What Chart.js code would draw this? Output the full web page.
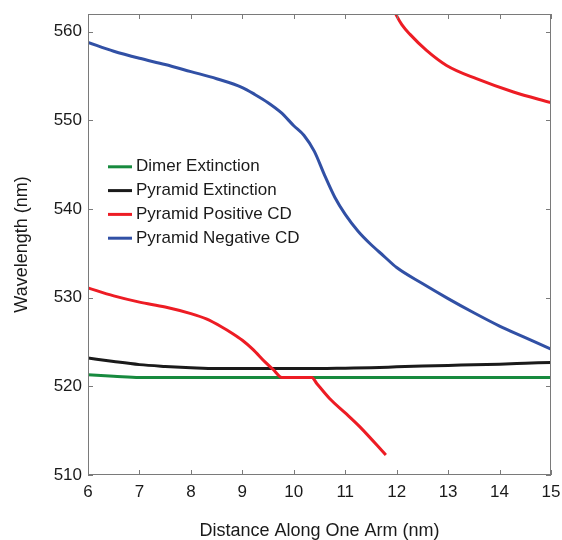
<!DOCTYPE html>
<html>
<head>
<meta charset="utf-8">
<script src="https://cdn.jsdelivr.net/npm/chart.js@4/dist/chart.umd.min.js"></script>
<style>
  html, body { margin: 0; padding: 0; background: #fff; }
  #wrap { width: 562px; height: 540px; }
</style>
</head>
<body>
<div id="wrap"><canvas id="chart" width="562" height="540"></canvas></div>
<script>
// Series data
const dimerX = [6.0, 6.5, 7.0, 7.5, 8.0, 9.0, 10.0, 11.0, 12.0, 13.0, 14.0, 15.0];
const dimerY = [521.3, 521.15, 521.0, 521.0, 521.0, 521.0, 521.0, 521.0, 521.0, 521.0, 521.0, 521.0];

const pyrExtX = [6.0, 6.5, 7.0, 7.5, 8.0, 8.5, 9.0, 9.5, 10.0, 10.5, 11.0, 11.5, 12.0, 12.5, 13.0, 13.5, 14.0, 14.5, 15.0];
const pyrExtY = [523.2, 522.8, 522.45, 522.25, 522.1, 522.0, 522.0, 522.0, 522.0, 522.0, 522.05, 522.1, 522.2, 522.3, 522.35, 522.45, 522.5, 522.6, 522.7];

const posLowX = [6.0, 6.5, 7.0, 7.5, 8.0, 8.3, 8.6, 8.8, 9.0, 9.2, 9.45, 9.6, 9.77, 10.35, 10.45, 10.7, 11.0, 11.29, 11.79];
const posLowY = [531.1, 530.2, 529.5, 528.95, 528.2, 527.6, 526.7, 526.0, 525.2, 524.2, 522.7, 521.9, 521.0, 521.0, 520.3, 518.6, 517.0, 515.4, 512.25];
const posHighX = [11.85, 11.99, 12.1, 12.26, 12.58, 12.97, 13.55, 14.27, 15.0];
const posHighY = [563.6, 561.9, 560.8, 559.7, 557.9, 556.2, 554.7, 553.2, 552.0];

const negX = [6.0, 6.5, 7.0, 7.5, 8.0, 8.5, 9.0, 9.25, 9.5, 9.75, 10.0, 10.2, 10.4, 10.6, 10.8, 11.0, 11.25, 11.5, 11.75, 12.0, 12.5, 13.0, 13.5, 14.0, 14.5, 15.0];
const negY = [558.8, 557.8, 557.0, 556.3, 555.5, 554.7, 553.7, 552.9, 552.0, 550.9, 549.4, 548.3, 546.5, 543.8, 541.3, 539.4, 537.5, 536.0, 534.7, 533.4, 531.6, 529.9, 528.3, 526.8, 525.5, 524.2];

const xTicks = [6, 7, 8, 9, 10, 11, 12, 13, 14, 15];
const yTicks = [510, 520, 530, 540, 550, 560];

const seriesLabels = ['Dimer Extinction', 'Pyramid Extinction', 'Pyramid Positive CD', 'Pyramid Negative CD'];
const seriesColors = ['#178a3e', '#1a1a1a', '#ed1c24', '#3150a5'];

function toPoints(xs, ys) {
  return xs.map((x, i) => ({ x: x, y: ys[i] }));
}

const FONT = '"Liberation Sans", Arial, Helvetica, sans-serif';

// frame, inward ticks on all four sides, and the legend inside the plot
const framePlugin = {
  id: 'frame',
  afterDatasetsDraw(chart) {
    const ctx = chart.ctx;
    const a = chart.chartArea;
    const xs = chart.scales.x, ys = chart.scales.y;
    ctx.save();
    ctx.strokeStyle = '#7a7a7a';
    ctx.lineWidth = 1;
    ctx.strokeRect(a.left + 0.5, a.top + 0.5, a.right - a.left - 1, a.bottom - a.top - 1);
    const len = 5;
    ctx.beginPath();
    xTicks.forEach(v => {
      const px = Math.round(xs.getPixelForValue(v)) + 0.5;
      ctx.moveTo(px, a.bottom); ctx.lineTo(px, a.bottom - len);
      ctx.moveTo(px, a.top); ctx.lineTo(px, a.top + len);
    });
    yTicks.forEach(v => {
      const py = Math.round(ys.getPixelForValue(v)) + 0.5;
      ctx.moveTo(a.left, py); ctx.lineTo(a.left + len, py);
      ctx.moveTo(a.right, py); ctx.lineTo(a.right - len, py);
    });
    ctx.stroke();

    // legend
    ctx.font = '17px ' + FONT;
    ctx.textBaseline = 'middle';
    ctx.textAlign = 'left';
    seriesLabels.forEach((lab, i) => {
      const y = 166.8 + i * 23.8;
      ctx.strokeStyle = seriesColors[i];
      ctx.lineWidth = 3;
      ctx.beginPath();
      ctx.moveTo(108, y); ctx.lineTo(132, y);
      ctx.stroke();
      ctx.fillStyle = '#1a1a1a';
      ctx.fillText(lab, 136, y);
    });
    ctx.restore();
  }
};

const ctx = document.getElementById('chart').getContext('2d');
const chart = new Chart(ctx, {
  type: 'line',
  data: {
    datasets: [
      {
        label: seriesLabels[0],
        data: toPoints(dimerX, dimerY),
        borderColor: seriesColors[0],
        order: 4
      },
      {
        label: seriesLabels[1],
        data: toPoints(pyrExtX, pyrExtY),
        borderColor: seriesColors[1],
        order: 3
      },
      {
        label: seriesLabels[2],
        data: toPoints(posLowX, posLowY).concat([{ x: 11.82, y: null }], toPoints(posHighX, posHighY)),
        borderColor: seriesColors[2],
        order: 2
      },
      {
        label: seriesLabels[3],
        data: toPoints(negX, negY),
        borderColor: seriesColors[3],
        order: 1
      }
    ]
  },
  options: {
    responsive: false,
    animation: false,
    spanGaps: false,
    layout: { padding: { left: 0, top: 14, right: 11, bottom: 0 } },
    elements: {
      line: { borderWidth: 3, cubicInterpolationMode: 'monotone', borderCapStyle: 'butt' },
      point: { radius: 0, hoverRadius: 0 }
    },
    plugins: {
      legend: { display: false },
      tooltip: { enabled: false }
    },
    scales: {
      x: {
        type: 'linear',
        min: 6,
        max: 15,
        afterFit: function(scale) {
          scale.height = 65;
          scale.paddingLeft = 0;
          scale.paddingRight = 0;
        },
        afterBuildTicks: function(scale) { scale.ticks = xTicks.map(v => ({ value: v })); },
        grid: { display: false, drawTicks: false },
        border: { display: false },
        ticks: {
          padding: 7,
          color: '#1a1a1a',
          font: { family: FONT, size: 17 },
          maxRotation: 0
        },
        title: {
          display: true,
          text: 'Distance Along One Arm (nm)',
          color: '#1a1a1a',
          font: { family: FONT, size: 18, lineHeight: 1 },
          padding: { top: 0, bottom: 0 }
        }
      },
      y: {
        type: 'linear',
        min: 510,
        max: 562,
        afterFit: function(scale) {
          scale.width = 88;
          scale.paddingTop = 0;
          scale.paddingBottom = 0;
        },
        afterBuildTicks: function(scale) { scale.ticks = yTicks.map(v => ({ value: v })); },
        grid: { display: false, drawTicks: false },
        border: { display: false },
        ticks: {
          padding: 6,
          color: '#1a1a1a',
          font: { family: FONT, size: 17 }
        },
        title: {
          display: true,
          text: 'Wavelength (nm)',
          color: '#1a1a1a',
          font: { family: FONT, size: 18, lineHeight: 1 },
          padding: { top: 13, bottom: 0 }
        }
      }
    }
  },
  plugins: [framePlugin]
});
</script>
</body>
</html>
